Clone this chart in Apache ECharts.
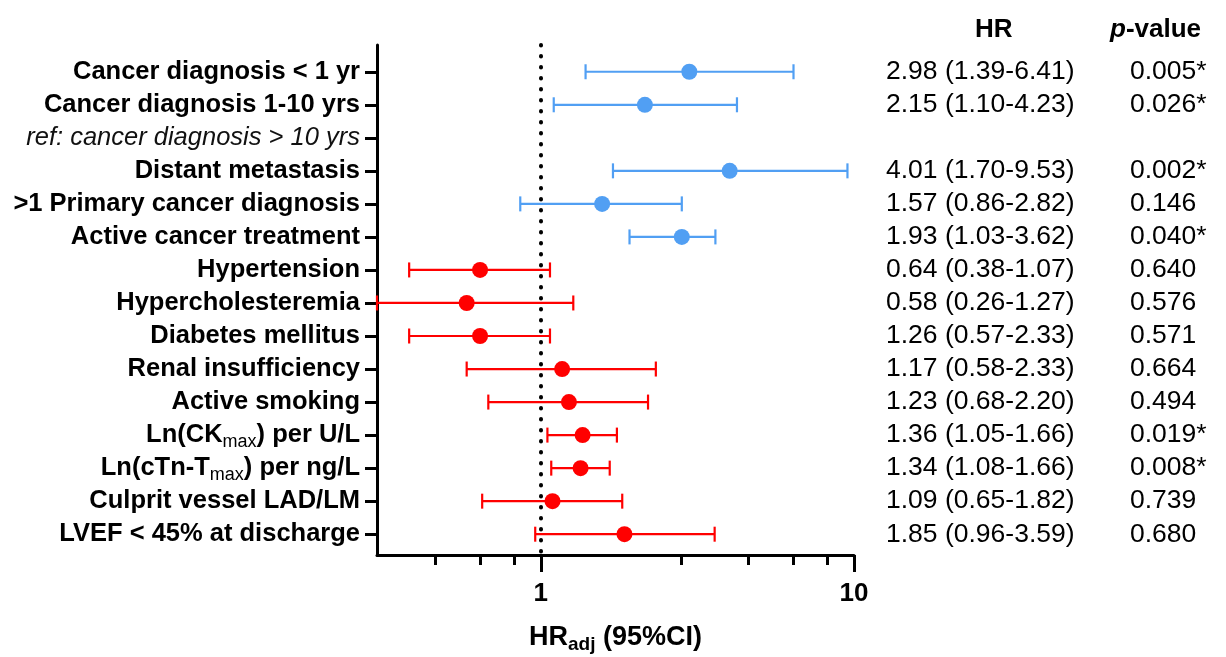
<!DOCTYPE html>
<html>
<head>
<meta charset="utf-8">
<script src="https://cdn.jsdelivr.net/npm/echarts@6/dist/echarts.min.js"></script>
<style>html,body{margin:0;padding:0;background:#fff}#c{width:1226px;height:657px}</style>
</head>
<body>
<div id="c"></div>
<script>
// ---- data ----
const categories = [
  'Cancer diagnosis < 1 yr',
  'Cancer diagnosis 1-10 yrs',
  'ref: cancer diagnosis > 10 yrs',
  'Distant metastasis',
  '>1 Primary cancer diagnosis',
  'Active cancer treatment',
  'Hypertension',
  'Hypercholesteremia',
  'Diabetes mellitus',
  'Renal insufficiency',
  'Active smoking',
  'Ln(CK{sub|max}) per U/L',
  'Ln(cTn-T{sub|max}) per ng/L',
  'Culprit vessel LAD/LM',
  'LVEF < 45% at discharge'
];
const group = ['cancer','cancer','ref','cancer','cancer','cancer','cv','cv','cv','cv','cv','cv','cv','cv','cv'];
// plotted values (as drawn in the figure)
const hr = [2.98, 2.15, null, 4.01, 1.57, 2.82, 0.64, 0.58, 0.64, 1.17, 1.23, 1.36, 1.34, 1.09, 1.85];
const lo = [1.39, 1.10, null, 1.70, 0.86, 1.92, 0.38, 0.26, 0.38, 0.58, 0.68, 1.05, 1.08, 0.65, 0.96];
const hi = [6.41, 4.23, null, 9.53, 2.82, 3.61, 1.07, 1.27, 1.07, 2.33, 2.20, 1.75, 1.66, 1.82, 3.59];
// table text
const hrText = ['2.98 (1.39-6.41)','2.15 (1.10-4.23)','','4.01 (1.70-9.53)','1.57 (0.86-2.82)','1.93 (1.03-3.62)',
  '0.64 (0.38-1.07)','0.58 (0.26-1.27)','1.26 (0.57-2.33)','1.17 (0.58-2.33)','1.23 (0.68-2.20)',
  '1.36 (1.05-1.66)','1.34 (1.08-1.66)','1.09 (0.65-1.82)','1.85 (0.96-3.59)'];
const pText = ['0.005*','0.026*','','0.002*','0.146','0.040*','0.640','0.576','0.571','0.664','0.494','0.019*','0.008*','0.739','0.680'];
// axis ticks
const majorTicks = [1, 10];
const minorTicks = [0.46, 0.64, 0.82, 2.8, 4.6, 6.4, 8.2];

const BLUE = '#519ff3', RED = '#ff0000';
const FONT = '"Liberation Sans", Arial, Helvetica, sans-serif';
const rows = categories.map((c, i) => i + 1);
const Y_MIN = 0.19, Y_MAX = 15.63;

const errData = [], ptData = [];
categories.forEach((c, i) => {
  if (hr[i] == null) return;
  const col = group[i] === 'cancer' ? BLUE : RED;
  errData.push({ value: [lo[i], hi[i], i + 1], itemStyle: { color: col } });
  ptData.push({ value: [hr[i], i + 1], itemStyle: { color: col, opacity: 1 } });
});

const chart = echarts.init(document.getElementById('c'), null, { renderer: 'canvas' });
const yBase = { type: 'value', inverse: true, min: Y_MIN, max: Y_MAX, splitLine: { show: false } };
chart.setOption({
  animation: false,
  backgroundColor: '#fff',
  textStyle: { fontFamily: FONT },
  title: [
    { text: 'HR', left: 975, top: 17, padding: 0,
      textStyle: { fontSize: 26, fontWeight: 'bold', color: '#000', fontFamily: FONT } },
    { text: '{i|p}{b|-value}', left: 1110, top: 17, padding: 0,
      textStyle: { rich: {
        i: { fontSize: 26, fontWeight: 'bold', fontStyle: 'italic', color: '#000', fontFamily: FONT },
        b: { fontSize: 26, fontWeight: 'bold', color: '#000', fontFamily: FONT } } } }
  ],
  grid: { left: 377, right: 372, top: 45, bottom: 102, containLabel: false, outerBoundsMode: 'none' },
  xAxis: [
    { type: 'log', logBase: 10, min: 0.3, max: 10, position: 'bottom',
      axisLine: { show: true, lineStyle: { color: '#000', width: 3 } },
      axisTick: { show: true, customValues: majorTicks, length: 17, lineStyle: { color: '#000', width: 3 } },
      axisLabel: { customValues: majorTicks, margin: 26, fontSize: 26, fontWeight: 'bold', color: '#000', fontFamily: FONT,
        formatter: v => String(v) },
      splitLine: { show: false },
      name: '{b|HR}{s|adj}{b| (95%CI)}', nameLocation: 'middle', nameGap: 66,
      nameTextStyle: { rich: {
        b: { fontSize: 27, fontWeight: 'bold', color: '#000', fontFamily: FONT, lineHeight: 34 },
        s: { fontSize: 19, fontWeight: 'bold', color: '#000', fontFamily: FONT, lineHeight: 34, padding: [14, 0, 0, 0] } } }
    },
    { type: 'log', logBase: 10, min: 0.3, max: 10, position: 'bottom', gridIndex: 0,
      axisLine: { show: false },
      axisTick: { show: true, customValues: minorTicks, length: 10, lineStyle: { color: '#000', width: 3 } },
      axisLabel: { show: false }, splitLine: { show: false } }
  ],
  yAxis: [
    Object.assign({}, yBase, {
      position: 'left',
      axisLine: { show: true, lineStyle: { color: '#000', width: 3 } },
      axisTick: { show: true, customValues: rows, length: 12, lineStyle: { color: '#000', width: 3 } },
      axisLabel: { customValues: rows, margin: 17, fontSize: 25.5, fontWeight: 'bold', color: '#000', fontFamily: FONT,
        formatter: v => {
          const i = Math.round(v) - 1;
          if (group[i] === 'ref') return '{it|' + categories[i] + '}';
          return categories[i];
        },
        rich: {
          it: { fontSize: 25.5, fontStyle: 'italic', fontWeight: 'normal', color: '#111', fontFamily: FONT },
          sub: { fontSize: 18, fontWeight: 'normal', color: '#000', fontFamily: FONT, padding: [13, 0, 0, 0] }
        } }
    }),
    Object.assign({}, yBase, {
      position: 'right', offset: 0,
      axisLine: { show: false }, axisTick: { show: false },
      axisLabel: { customValues: rows, margin: 32, align: 'left', fontSize: 26.5, color: '#000', fontFamily: FONT,
        formatter: v => hrText[Math.round(v) - 1] }
    }),
    Object.assign({}, yBase, {
      position: 'right', offset: 244,
      axisLine: { show: false }, axisTick: { show: false },
      axisLabel: { customValues: rows, margin: 32, align: 'left', fontSize: 26.5, color: '#000', fontFamily: FONT,
        formatter: v => pText[Math.round(v) - 1] }
    })
  ],
  series: [
    {
      type: 'custom', xAxisIndex: 0, yAxisIndex: 0, clip: false, z: 3,
      renderItem: (params, api) => {
        const r = api.value(2);
        const a = api.coord([api.value(0), r]);
        const b = api.coord([api.value(1), r]);
        const cs = params.coordSys;
        const x0 = Math.max(a[0], cs.x);
        const x1 = Math.min(b[0], cs.x + cs.width);
        const y = a[1], h = 7.5;
        const style = { stroke: api.visual('color'), lineWidth: 2.2, fill: null };
        return { type: 'group', children: [
          { type: 'line', shape: { x1: x0, y1: y, x2: x1, y2: y }, style },
          { type: 'line', shape: { x1: x0, y1: y - h, x2: x0, y2: y + h }, style },
          { type: 'line', shape: { x1: x1, y1: y - h, x2: x1, y2: y + h }, style }
        ] };
      },
      data: errData
    },
    {
      type: 'scatter', xAxisIndex: 0, yAxisIndex: 0, symbol: 'circle', symbolSize: 16, z: 4,
      itemStyle: { opacity: 1 },
      data: ptData,
      markLine: {
        silent: true, symbol: 'none', label: { show: false }, z: 2,
        lineStyle: { color: '#000', width: 4, type: [0.5, 10.5], cap: 'round' },
        data: [{ xAxis: 1 }]
      }
    }
  ]
});
</script>
</body>
</html>
